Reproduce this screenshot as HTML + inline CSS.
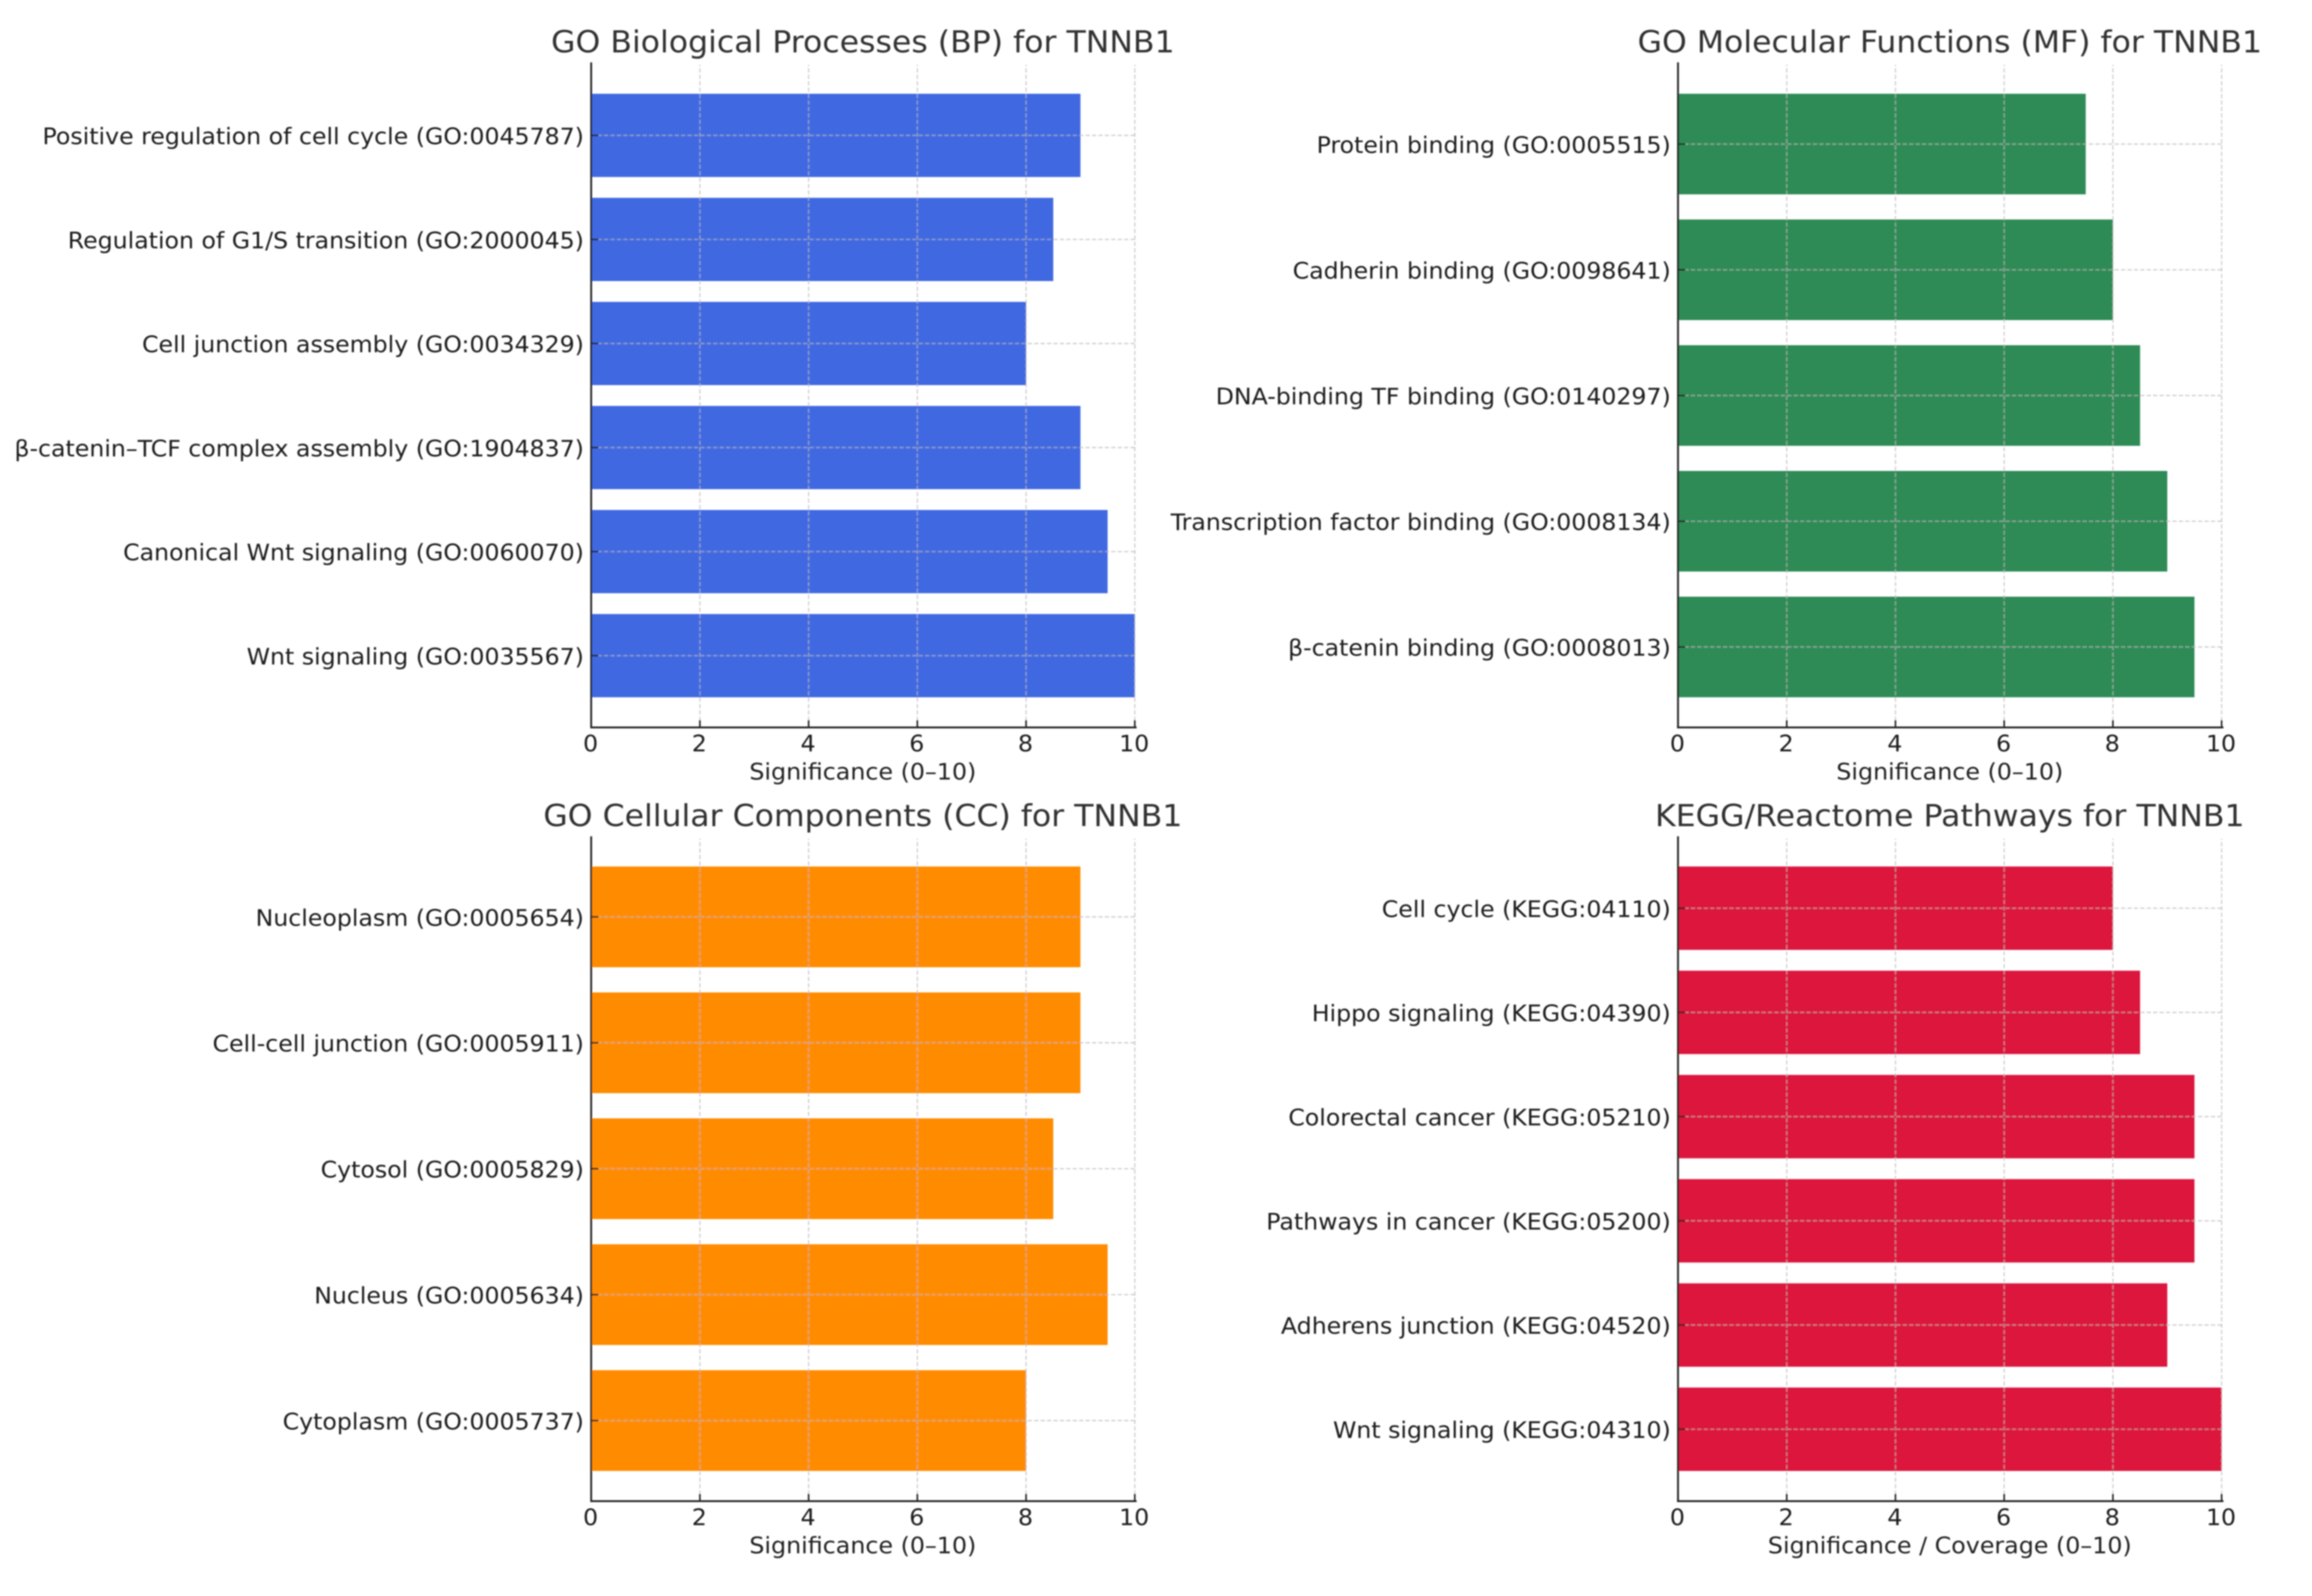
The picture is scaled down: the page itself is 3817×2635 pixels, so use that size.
<!DOCTYPE html>
<html lang="en">
<head>
<meta charset="utf-8">
<title>TNNB1 enrichment charts</title>
<style>
  html, body { margin: 0; padding: 0; background: #fff; }
  svg { display: block; }
  text { font-family: "DejaVu Sans", "Liberation Sans", sans-serif; }
  .title { font-size: 49.6px; fill: #303030; text-anchor: middle; }
  .xlabel { font-size: 37px; fill: #222; text-anchor: middle; }
  .ylab { font-size: 37px; fill: #1c1c1c; text-anchor: end; }
  .xtick { font-size: 37px; fill: #1c1c1c; text-anchor: middle; }
</style>
</head>
<body>
<svg id="chart-root" xmlns="http://www.w3.org/2000/svg" width="3817" height="2635" viewBox="0 0 3817 2635">
  <defs>
    <filter id="soft" filterUnits="userSpaceOnUse" x="0" y="0" width="3817" height="2635">
      <feGaussianBlur stdDeviation="1"/>
    </filter>
  </defs>
  <rect x="0" y="0" width="3817" height="2635" fill="#ffffff"/>
  <g filter="url(#soft)">
    <g id="panel-bp">
      <text class="title" transform="translate(1424.5,86.5) scale(1.05,1)">GO Biological Processes (BP) for TNNB1</text>
      <text class="xlabel" transform="translate(1424.5,1287) scale(1.06,1)">Significance (0–10)</text>
    </g>
    <g id="panel-mf">
      <text class="title" transform="translate(3219,86.5) scale(1.05,1)">GO Molecular Functions (MF) for TNNB1</text>
      <text class="xlabel" transform="translate(3219,1287) scale(1.06,1)">Significance (0–10)</text>
    </g>
    <g id="panel-cc">
      <text class="title" transform="translate(1424.5,1364) scale(1.05,1)">GO Cellular Components (CC) for TNNB1</text>
      <text class="xlabel" transform="translate(1424.5,2564.5) scale(1.06,1)">Significance (0–10)</text>
    </g>
    <g id="panel-kegg">
      <text class="title" transform="translate(3219,1364) scale(1.05,1)">KEGG/Reactome Pathways for TNNB1</text>
      <text class="xlabel" transform="translate(3219,2564.5) scale(1.06,1)">Significance / Coverage (0–10)</text>
    </g>
  </g>
</svg>
<script>
// Chart data (categories listed bottom-to-top, as on the y axis)
const bpCategories = ["Wnt signaling (GO:0035567)", "Canonical Wnt signaling (GO:0060070)", "β-catenin–TCF complex assembly (GO:1904837)", "Cell junction assembly (GO:0034329)", "Regulation of G1/S transition (GO:2000045)", "Positive regulation of cell cycle (GO:0045787)"];
const bpValues = [10, 9.5, 9, 8, 8.5, 9];
const mfCategories = ["β-catenin binding (GO:0008013)", "Transcription factor binding (GO:0008134)", "DNA-binding TF binding (GO:0140297)", "Cadherin binding (GO:0098641)", "Protein binding (GO:0005515)"];
const mfValues = [9.5, 9, 8.5, 8, 7.5];
const ccCategories = ["Cytoplasm (GO:0005737)", "Nucleus (GO:0005634)", "Cytosol (GO:0005829)", "Cell-cell junction (GO:0005911)", "Nucleoplasm (GO:0005654)"];
const ccValues = [8, 9.5, 8.5, 9, 9];
const keggCategories = ["Wnt signaling (KEGG:04310)", "Adherens junction (KEGG:04520)", "Pathways in cancer (KEGG:05200)", "Colorectal cancer (KEGG:05210)", "Hippo signaling (KEGG:04390)", "Cell cycle (KEGG:04110)"];
const keggValues = [10, 9, 9.5, 9.5, 8.5, 8];
const xTickValues = [0, 2, 4, 6, 8, 10];

const SVG_NS = "http://www.w3.org/2000/svg";
const X_MAX = 10;
const TEXT_STRETCH = 1.055;
const BAR_THICKNESS = 0.8;
const PLOT_WIDTH = 897.5;

function make(parent, tag, attrs) {
  const el = document.createElementNS(SVG_NS, tag);
  for (const k in attrs) el.setAttribute(k, attrs[k]);
  parent.appendChild(el);
  return el;
}

function xScale(panel, v) {
  return panel.left + (v / X_MAX) * PLOT_WIDTH;
}

function yUnit(panel, n) {
  const span = n - 1 + BAR_THICKNESS;
  return (panel.bottom - panel.top) / (span * 1.1);
}

function yScale(panel, pos, n) {
  const span = n - 1 + BAR_THICKNESS;
  const margin = span * 0.05;
  return panel.bottom - (margin + BAR_THICKNESS / 2 + pos) * yUnit(panel, n);
}

function drawPanel(id, panel, categories, values, color) {
  const group = document.getElementById(id);
  const n = categories.length;
  const unit = yUnit(panel, n);

  values.forEach(function (v, i) {
    const bar = make(group, "rect", {
      x: xScale(panel, 0),
      y: yScale(panel, i, n) - unit * BAR_THICKNESS / 2,
      width: xScale(panel, v) - xScale(panel, 0),
      height: unit * BAR_THICKNESS,
      fill: color
    });
    
    
  });

  xTickValues.forEach(function (t) {
    const x = xScale(panel, t);
    const grid = make(group, "line", {
      x1: x, x2: x, y1: panel.bottom, y2: panel.spineTop + 4,
      stroke: "#b9b9b9", "stroke-opacity": 0.65, "stroke-width": 2.2, "stroke-dasharray": "7 3.6"
    });
    
    
  });

  categories.forEach(function (c, i) {
    const y = yScale(panel, i, n);
    const grid = make(group, "line", {
      x1: xScale(panel, 0), x2: xScale(panel, X_MAX), y1: y, y2: y,
      stroke: "#b9b9b9", "stroke-opacity": 0.65, "stroke-width": 2.2, "stroke-dasharray": "7 3.6"
    });
    
    

    const tick = make(group, "line", {
      x1: panel.left, x2: panel.left + 12, y1: y, y2: y, stroke: "#222", "stroke-width": 2.6
    });
    
    

    const label = make(group, "text", {
      "class": "ylab",
      transform: "translate(" + (panel.left - 12) + "," + (y + 14.5) + ") scale(" + TEXT_STRETCH + ",1)"
    });
    label.textContent = c;
    
    
  });

  xTickValues.forEach(function (t) {
    const x = xScale(panel, t);
    const tick = make(group, "line", {
      x1: x, x2: x, y1: panel.bottom, y2: panel.bottom - 12, stroke: "#222", "stroke-width": 2.6
    });
    
    

    const label = make(group, "text", {
      "class": "xtick",
      transform: "translate(" + (x - 1) + "," + (panel.bottom + 39.5) + ") scale(" + TEXT_STRETCH + ",1)"
    });
    label.textContent = String(t);
    
    
  });

  const leftSpine = make(group, "line", {
    x1: panel.left, x2: panel.left, y1: panel.spineTop, y2: panel.bottom + 1.5, stroke: "#222", "stroke-width": 3
  });
  
  

  const bottomSpine = make(group, "line", {
    x1: panel.left - 1.5, x2: xScale(panel, X_MAX) + 3, y1: panel.bottom, y2: panel.bottom, stroke: "#222", "stroke-width": 3
  });
  
  
}

drawPanel("panel-bp", { left: 976, top: 105, spineTop: 103, bottom: 1201 }, bpCategories, bpValues, "#4169E1");
drawPanel("panel-mf", { left: 2770.3, top: 105, spineTop: 103, bottom: 1201 }, mfCategories, mfValues, "#2E8B57");
drawPanel("panel-cc", { left: 976, top: 1380.7, spineTop: 1380.7, bottom: 2478.4 }, ccCategories, ccValues, "#FF8C00");
drawPanel("panel-kegg", { left: 2770.3, top: 1380.7, spineTop: 1380.7, bottom: 2478.4 }, keggCategories, keggValues, "#DC143C");
</script>
</body>
</html>
